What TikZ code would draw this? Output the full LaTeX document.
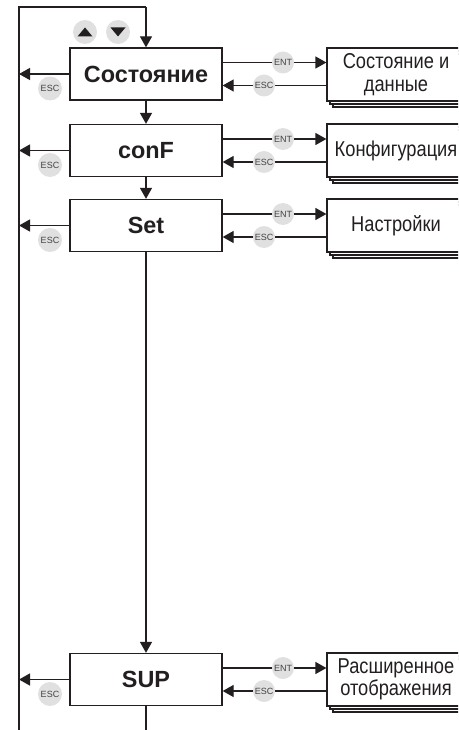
\documentclass[tikz,border=0pt]{standalone}
\usepackage{fontspec}
\setmainfont{Liberation Sans}
\newfontfamily\narrowfont{Liberation Sans}[FakeStretch=0.85]
\usetikzlibrary{arrows.meta,shadows,calc}
\definecolor{ink}{HTML}{231F20}
\definecolor{keygray}{HTML}{E0E0E0}
\tikzset{
  mainbox/.style={draw=ink, line width=1.3pt, fill=white, minimum width=152pt, minimum height=52pt, inner sep=0pt,
    font=\fontsize{23.4}{26}\selectfont\bfseries, text=ink},
  subbox/.style={draw=ink, line width=1.2pt, fill=white, minimum width=138pt, minimum height=53pt, inner sep=0pt,
    align=center, font=\narrowfont\fontsize{21.5}{22.5}\selectfont, text=ink,
    double copy shadow={shadow xshift=3pt, shadow yshift=-3pt, draw=ink, fill=white, line width=1.2pt}},
  keycirc/.style={circle, fill=keygray, minimum size=24pt, inner sep=0pt, font=\fontsize{9}{10}\selectfont, text=ink!85},
  conn/.style={draw=ink, line width=1.3pt},
  arr/.style={conn, -{Triangle[length=11pt,width=12pt]}}
}
\begin{document}
\begin{tikzpicture}[x=1pt,y=-1pt]
\useasboundingbox (0,0) rectangle (458,730);
\clip (0,0) rectangle (458,730);
% left rail and top loop
\coordinate (L) at (19,0);
\coordinate (railtop) at (19,7);
\coordinate (railbot) at (19,731);
\coordinate (looptop) at (146,7);
% main boxes
\node[mainbox] (m1) at (146,74) {Состояние};
\node[mainbox] (m2) at (146,150.5) {conF};
\node[mainbox] (m3) at (146,225.5) {Set};
\node[mainbox] (m4) at (146,679.5) {SUP};
\coordinate (bot) at (146,731);
% right boxes
\node[subbox] (r1) at (396,74.5) {Состояние и\\данные};
\node[subbox] (r2) at (396,150.5) {Конфигурация};
\node[subbox] (r3) at (396,225.5) {Настройки};
\node[subbox] (r4) at (396,679.5) {Расширенное\\отображения};
% rail
\draw[conn] (railbot) -- (railtop) -- (looptop);
\draw[arr] (looptop) -- (m1.north);
% down flow
\draw[arr] (m1.south) -- (m2.north);
\draw[arr] (m2.south) -- (m3.north);
\draw[arr] (m3.south) -- (m4.north);
\draw[conn] (m4.south) -- (bot);
% left ESC arrows and keys
\foreach \m in {m1,m2,m3,m4}{
  \draw[arr] (\m.west) -- (\m.west -| L);
  \node[keycirc] (esc\m) at ($(\m.west -| 50,0)+(0,14.5)$) {ESC};
}
% right ENT / ESC
\foreach \m/\r in {m1/r1,m2/r2,m3/r3,m4/r4}{
  \draw[arr] ([yshift=11.5pt]\m.east) -- ([yshift=11.5pt]\m.east -| \r.west);
  \draw[arr] ([yshift=-11.5pt]\m.east -| \r.west) -- ([yshift=-11.5pt]\m.east);
  \node[keycirc, minimum size=22pt] (ent\r) at ([yshift=11.5pt]\m.east -| 283,0) {ENT};
  \node[keycirc, minimum size=22pt] (back\r) at ([yshift=-11.5pt]\m.east -| 264,0) {ESC};
}
% up / down keys
\node[keycirc] (up) at (85,32) {};
\node[keycirc] (down) at (118,32) {};
\fill[ink] ($(up.center)+(-7.5,4.5)$) -- ($(up.center)+(7.5,4.5)$) -- ($(up.center)+(0,-4.5)$) -- cycle;
\fill[ink] ($(down.center)+(-7.5,-4.5)$) -- ($(down.center)+(7.5,-4.5)$) -- ($(down.center)+(0,4.5)$) -- cycle;
\end{tikzpicture}
\end{document}
